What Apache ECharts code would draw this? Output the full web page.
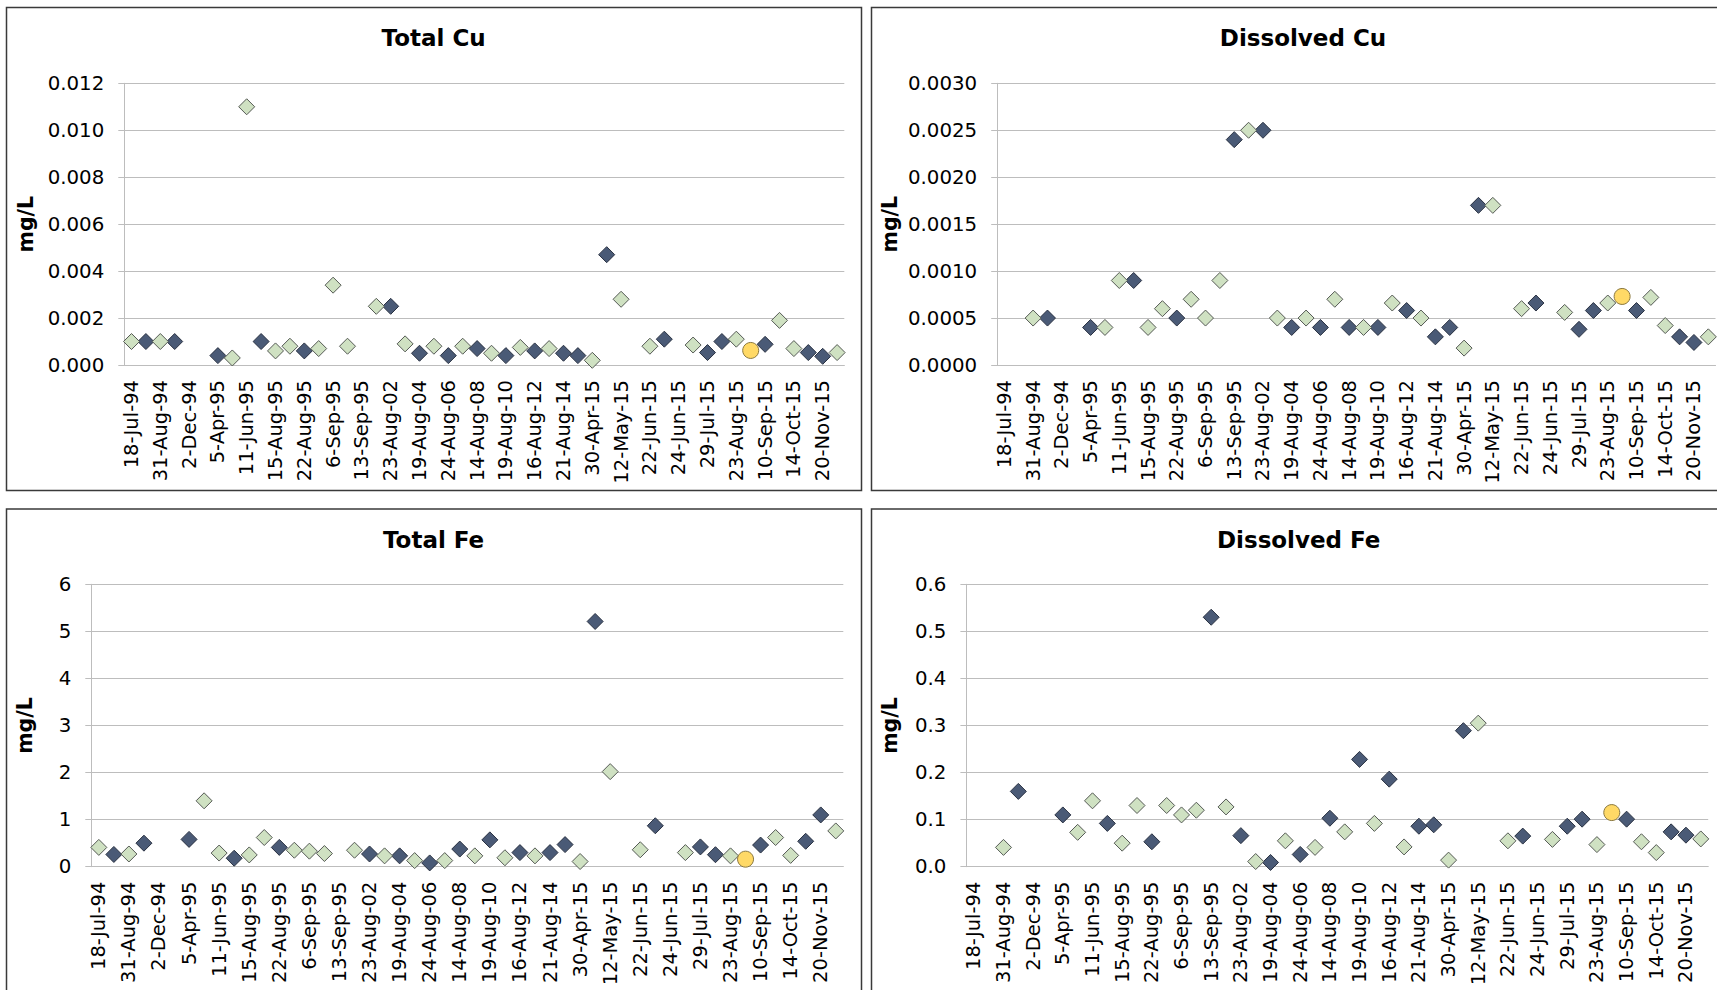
<!DOCTYPE html>
<html>
<head>
<meta charset="utf-8">
<script src="https://cdn.jsdelivr.net/npm/echarts@6.0.0/dist/echarts.min.js"></script>
<style>
  html, body { margin: 0; padding: 0; background: #ffffff; }
  #chart { width: 1717px; height: 990px; }
</style>
</head>
<body>
<div id="chart"></div>
<script>
// Sampling dates that carry an axis label; each one is followed by an unlabelled sampling slot.
const dateLabels = [
  '18-Jul-94', '31-Aug-94', '2-Dec-94', '5-Apr-95', '11-Jun-95', '15-Aug-95', '22-Aug-95',
  '6-Sep-95', '13-Sep-95', '23-Aug-02', '19-Aug-04', '24-Aug-06', '14-Aug-08', '19-Aug-10',
  '16-Aug-12', '21-Aug-14', '30-Apr-15', '12-May-15', '22-Jun-15', '24-Jun-15', '29-Jul-15',
  '23-Aug-15', '10-Sep-15', '14-Oct-15', '20-Nov-15'
];
const categories = dateLabels.flatMap(d => [d, '']);

// Total Cu (mg/L)
const totalCuDark = [
  null, 0.001, null, 0.001, null, null, 0.0004, null, null, 0.001,
  null, null, 0.0006, null, null, null, null, null, 0.0025, null,
  0.0005, null, 0.0004, null, 0.0007, null, 0.0004, null, 0.0006, null,
  0.0005, 0.0004, null, 0.0047, null, null, null, 0.0011, null, null,
  0.00053, 0.001, null, null, 0.00088, null, null, 0.00053, 0.00037, null
];
const totalCuLight = [
  0.001, null, 0.001, null, null, null, null, 0.0003, 0.011, null,
  0.0006, 0.0008, null, 0.0007, 0.0034, 0.0008, null, 0.0025, null, 0.0009,
  null, 0.0008, null, 0.0008, null, 0.0005, null, 0.00075, null, 0.0007,
  null, null, 0.0002, null, 0.0028, null, 0.0008, null, null, 0.00085,
  null, null, 0.0011, null, null, 0.0019, 0.0007, null, null, 0.00053
];
const totalCuFlag = [[43, 0.00062]];

// Dissolved Cu (mg/L)
const dissolvedCuDark = [
  null, null, null, 0.0005, null, null, 0.0004, null, null, 0.0009,
  null, null, 0.0005, null, null, null, 0.0024, null, 0.0025, null,
  0.0004, null, 0.0004, null, 0.0004, null, 0.0004, null, 0.00058, null,
  0.0003, 0.0004, null, 0.0017, null, null, null, 0.00066, null, null,
  0.00038, 0.00058, null, null, 0.00058, null, null, 0.0003, 0.00024, null
];
const dissolvedCuLight = [
  null, null, 0.0005, null, null, null, null, 0.0004, 0.0009, null,
  0.0004, 0.0006, null, 0.0007, 0.0005, 0.0009, null, 0.0025, null, 0.0005,
  null, 0.0005, null, 0.0007, null, 0.0004, null, 0.00066, null, 0.0005,
  null, null, 0.00018, null, 0.0017, null, 0.0006, null, null, 0.00056,
  null, null, 0.00066, null, null, 0.00072, 0.00042, null, null, 0.0003
];
const dissolvedCuFlag = [[43, 0.00073]];

// Total Fe (mg/L)
const totalFeDark = [
  null, 0.26, null, 0.50, null, null, 0.58, null, null, 0.18,
  null, null, 0.41, null, null, null, null, null, 0.27, null,
  0.23, null, 0.08, null, 0.375, null, 0.57, null, 0.30, null,
  0.30, 0.47, null, 5.21, null, null, null, 0.87, null, null,
  0.42, 0.255, null, null, 0.46, null, null, 0.54, 1.10, null
];
const totalFeLight = [
  0.41, null, 0.27, null, null, null, null, 1.40, 0.29, null,
  0.25, 0.62, null, 0.35, 0.33, 0.28, null, 0.35, null, 0.23,
  null, 0.13, null, 0.13, null, 0.23, null, 0.19, null, 0.23,
  null, null, 0.11, null, 2.02, null, 0.36, null, null, 0.30,
  null, null, 0.23, null, null, 0.62, 0.24, null, null, 0.76
];
const totalFeFlag = [[43, 0.16]];

// Dissolved Fe (mg/L)
const dissolvedFeDark = [
  null, null, null, 0.16, null, null, 0.11, null, null, 0.092,
  null, null, 0.053, null, null, null, 0.53, null, 0.066, null,
  0.009, null, 0.026, null, 0.103, null, 0.228, null, 0.186, null,
  0.086, 0.089, null, 0.289, null, null, null, 0.065, null, null,
  0.086, 0.101, null, null, 0.101, null, null, 0.074, 0.067, null
];
const dissolvedFeLight = [
  null, null, 0.041, null, null, null, null, 0.073, 0.14, null,
  0.05, 0.13, null, 0.13, 0.11, 0.12, null, 0.127, null, 0.011,
  null, 0.055, null, 0.041, null, 0.074, null, 0.092, null, 0.042,
  null, null, 0.014, null, 0.305, null, 0.055, null, null, 0.058,
  null, null, 0.047, null, null, 0.053, 0.030, null, null, 0.059
];
const dissolvedFeFlag = [[43, 0.115]];

// Axis scales per panel
const panelTitles = ['Total Cu', 'Dissolved Cu', 'Total Fe', 'Dissolved Fe'];
const axisMax = [0.012, 0.003, 6, 0.6];
const axisStep = [0.002, 0.0005, 1, 0.1];
const axisDigits = [3, 4, 0, 1];
const darkSets = [totalCuDark, dissolvedCuDark, totalFeDark, dissolvedFeDark];
const lightSets = [totalCuLight, dissolvedCuLight, totalFeLight, dissolvedFeLight];
const flagSets = [totalCuFlag, dissolvedCuFlag, totalFeFlag, dissolvedFeFlag];

// Page layout (pixels)
const layout = [
  { grid: { left: 124.3, top: 83.3, width: 720, height: 281.7 }, title: [433.6, 38.3], box: [6.5, 7.5, 855, 483], nameGap: 88 },
  { grid: { left: 997.2, top: 83.3, width: 718.3, height: 281.7 }, title: [1303, 38.3], box: [871.5, 7.5, 900, 483], nameGap: 97 },
  { grid: { left: 91.3, top: 584.3, width: 752, height: 282.4 }, title: [433.6, 539.8], box: [6.5, 509, 855, 600], nameGap: 56 },
  { grid: { left: 966.4, top: 584.3, width: 741.8, height: 282.4 }, title: [1298.7, 539.8], box: [871.5, 509, 900, 600], nameGap: 66 }
];

const FONT = '"DejaVu Sans", Verdana, sans-serif';
const TEXT = '#000000';
const GRIDLINE = '#bdbdbd';
const MARK_SIZE = 16;

const option = {
  animation: false,
  backgroundColor: '#ffffff',
  textStyle: { fontFamily: FONT },
  title: layout.map((l, i) => ({
    text: panelTitles[i],
    left: l.title[0],
    top: l.title[1] - 12,
    textAlign: 'center',
    padding: 0,
    textStyle: { fontFamily: FONT, fontSize: 23, fontWeight: 'bold', color: TEXT, lineHeight: 24 }
  })),
  graphic: layout.map(l => ({
    type: 'rect',
    silent: true,
    shape: { x: l.box[0], y: l.box[1], width: l.box[2], height: l.box[3] },
    style: { fill: 'none', stroke: '#3a3a3a', lineWidth: 1.5 }
  })),
  grid: layout.map(l => Object.assign({ containLabel: false, outerBoundsMode: 'none' }, l.grid)),
  xAxis: layout.map((l, i) => ({
    type: 'category',
    gridIndex: i,
    data: categories,
    boundaryGap: true,
    axisLine: { show: true, lineStyle: { color: GRIDLINE, width: 1 } },
    axisTick: { show: false },
    splitLine: { show: false },
    axisLabel: {
      interval: 0,
      rotate: 90,
      margin: 15,
      fontFamily: FONT,
      fontSize: 19.5,
      color: TEXT
    }
  })),
  yAxis: layout.map((l, i) => ({
    type: 'value',
    gridIndex: i,
    min: 0,
    max: axisMax[i],
    interval: axisStep[i],
    name: 'mg/L',
    nameLocation: 'middle',
    nameRotate: 90,
    nameGap: l.nameGap,
    nameTextStyle: { fontFamily: FONT, fontSize: 20.5, fontWeight: 'bold', color: TEXT },
    axisLine: { show: true, lineStyle: { color: GRIDLINE, width: 1 } },
    axisTick: { show: true, inside: false, length: 6, lineStyle: { color: GRIDLINE, width: 1 } },
    splitLine: { show: true, lineStyle: { color: GRIDLINE, width: 1.2 } },
    axisLabel: {
      margin: 20,
      fontFamily: FONT,
      fontSize: 19.8,
      color: TEXT,
      formatter: v => v.toFixed(axisDigits[i])
    }
  })),
  series: []
};

for (let i = 0; i < 4; i++) {
  option.series.push({
    type: 'scatter',
    xAxisIndex: i, yAxisIndex: i,
    symbol: 'diamond',
    symbolSize: MARK_SIZE,
    data: darkSets[i],
    itemStyle: { color: '#4a5a76', borderColor: '#2a3242', borderWidth: 1, opacity: 1 }
  });
  option.series.push({
    type: 'scatter',
    xAxisIndex: i, yAxisIndex: i,
    symbol: 'diamond',
    symbolSize: MARK_SIZE,
    data: lightSets[i],
    itemStyle: { color: '#cfe1c2', borderColor: '#555a55', borderWidth: 1, opacity: 1 }
  });
  option.series.push({
    type: 'scatter',
    xAxisIndex: i, yAxisIndex: i,
    symbol: 'circle',
    symbolSize: MARK_SIZE,
    data: flagSets[i],
    itemStyle: { color: '#ffd966', borderColor: '#8a7840', borderWidth: 1, opacity: 1 }
  });
}

const chart = echarts.init(document.getElementById('chart'), null, { renderer: 'svg' });
chart.setOption(option);
</script>
</body>
</html>
